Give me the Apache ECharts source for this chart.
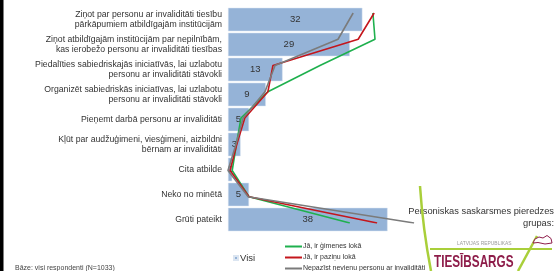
<!DOCTYPE html>
<html>
<head>
<meta charset="utf-8">
<script src="https://cdn.jsdelivr.net/npm/echarts@6/dist/echarts.min.js"></script>
<style>
  html, body { margin: 0; padding: 0; background: #fff; }
  #chart { width: 559px; height: 271px; }
</style>
</head>
<body>
<div id="chart"></div>
<script>
var categories = [
    "Ziņot par personu ar invaliditāti tiesību\npārkāpumiem atbildīgajām institūcijām",
    "Ziņot atbildīgajām institūcijām par nepilnībām,\nkas ierobežo personu ar invaliditāti tiesības",
    "Piedalīties sabiedriskajās iniciatīvās, lai uzlabotu\npersonu ar invaliditāti stāvokli",
    "Organizēt sabiedriskās iniciatīvas, lai uzlabotu\npersonu ar invaliditāti stāvokli",
    "Pieņemt darbā personu ar invaliditāti",
    "Kļūt par audžuģimeni, viesģimeni, aizbildni\nbērnam ar invaliditāti",
    "Cita atbilde",
    "Neko no minētā",
    "Grūti pateikt"
];
// visi respondenti, %
var visi = [32, 29, 13, 9, 5, 3, 1, 5, 38];
// personiskas saskarsmes pieredzes grupas
var gimenesLoka = [34.5, 35, 21.9, 9.5, 3.1, 2, 1, 5, 29];
var pazinuLoka = [34.8, 31, 10.7, 9.5, 4, 2.1, 0.5, 5, 35.5];
var nepazist = [29.8, 26.2, 11.2, 8.8, 3.6, 1.9, 0, 4.8, 44.3];

var chart = echarts.init(document.getElementById("chart"));

var font = "Liberation Sans, Arial, sans-serif";
var logoGreen = "#a9cf3a";
var logoRed = "#8e1d4a";

var option = {
    animation: false,
    textStyle: { fontFamily: font },
    grid: [
        { left: 228, top: 7, width: 210, height: 225 },
        { left: 228, top: 13, width: 210, height: 210 }
    ],
    xAxis: [
        { gridIndex: 0, type: "value", min: 0, max: 50, show: false },
        { gridIndex: 1, type: "value", min: 0, max: 50, show: false }
    ],
    yAxis: [
        {
            gridIndex: 0, type: "category", inverse: true, data: categories,
            axisLine: { show: false }, axisTick: { show: false },
            axisLabel: {
                color: "#333", fontSize: 8.7, lineHeight: 10, margin: 6,
                align: "right", fontFamily: font
            }
        },
        {
            gridIndex: 1, type: "category", inverse: true, boundaryGap: false,
            data: categories, show: false
        }
    ],
    legend: [
        {
            data: ["Visi"], left: 228, top: 248, icon: "rect",
            itemWidth: 4, itemHeight: 4,
            textStyle: { fontSize: 9.5, color: "#333", fontFamily: font, padding: [0, 0, 0, -3] }
        },
        {
            data: ["Jā, ir ģimenes lokā", "Jā, ir paziņu lokā", "Nepazīst nevienu personu ar invaliditāti"],
            orient: "vertical", left: 285, top: 242.5, height: 34, icon: "rect",
            itemWidth: 17, itemHeight: 2, itemGap: 3, padding: 0,
            textStyle: { fontSize: 7, lineHeight: 8, color: "#333", fontFamily: font, padding: [0, 0, 0, -4] }
        }
    ],
    series: [
        {
            name: "Visi", type: "bar", xAxisIndex: 0, yAxisIndex: 0, data: visi,
            barCategoryGap: "6%",
            itemStyle: { color: "#95b3d7", borderColor: "#dbe5f1", borderWidth: 0.5 },
            label: { show: true, position: "inside", color: "#333", fontSize: 9.5, fontFamily: font }
        },
        {
            name: "Jā, ir ģimenes lokā", type: "line", xAxisIndex: 1, yAxisIndex: 1,
            data: gimenesLoka, showSymbol: false, color: "#1fb04e",
            lineStyle: { width: 1.6, color: "#1fb04e" }
        },
        {
            name: "Jā, ir paziņu lokā", type: "line", xAxisIndex: 1, yAxisIndex: 1,
            data: pazinuLoka, showSymbol: false, color: "#c4161c",
            lineStyle: { width: 1.6, color: "#c4161c" }
        },
        {
            name: "Nepazīst nevienu personu ar invaliditāti", type: "line", xAxisIndex: 1, yAxisIndex: 1,
            data: nepazist, showSymbol: false, color: "#7b7b7b",
            lineStyle: { width: 1.6, color: "#7b7b7b" }
        }
    ],
    graphic: [
        // melna mala kreisajā pusē
        { type: "rect", shape: { x: 0, y: 0, width: 3.5, height: 271 }, style: { fill: "#000" } },
        {
            type: "text", left: 15, top: 265,
            style: { text: "Bāze: visi respondenti (N=1033)", fontSize: 7, fill: "#444", fontFamily: font }
        },
        {
            type: "text", x: 554, y: 206, z: 10,
            style: {
                text: "Personiskas saskarsmes pieredzes\ngrupas:", textAlign: "right",
                fontSize: 9.3, lineHeight: 11.5, fill: "#333", fontFamily: font
            }
        },
        // logo
        {
            type: "bezierCurve", z: 20,
            shape: { x1: 420, y1: 186, x2: 431, y2: 271, cpx1: 423, cpy1: 230 },
            style: { stroke: logoGreen, lineWidth: 2.5, fill: null }
        },
        {
            type: "line", z: 20, shape: { x1: 430, y1: 249, x2: 552, y2: 249 },
            style: { stroke: logoGreen, lineWidth: 2 }
        },
        {
            type: "line", z: 20, shape: { x1: 537, y1: 236, x2: 518, y2: 271 },
            style: { stroke: logoGreen, lineWidth: 2.5 }
        },
        {
            type: "polygon", z: 20,
            shape: { points: [[533, 243], [535, 239], [539, 237], [543, 238], [547, 235.5], [551, 238.5], [552, 243], [545, 244], [538, 242.5]] },
            style: { stroke: logoRed, lineWidth: 1, fill: "#fff" }
        },
        {
            type: "text", x: 457, y: 243, scaleX: 0.82, z: 20,
            style: { text: "LATVIJAS REPUBLIKAS", fontSize: 6, fill: "#999", textVerticalAlign: "middle", fontFamily: font }
        },
        {
            type: "rect", z: 19, shape: { x: 432, y: 252, width: 84, height: 19 }, style: { fill: "#fff" }
        },
        {
            type: "text", x: 434, y: 262, scaleX: 0.69, z: 20,
            style: {
                text: "TIESĪBSARGS", fontSize: 17, fontWeight: "bold", fill: logoRed,
                textVerticalAlign: "middle", fontFamily: font
            }
        }
    ]
};

chart.setOption(option);
</script>
</body>
</html>
